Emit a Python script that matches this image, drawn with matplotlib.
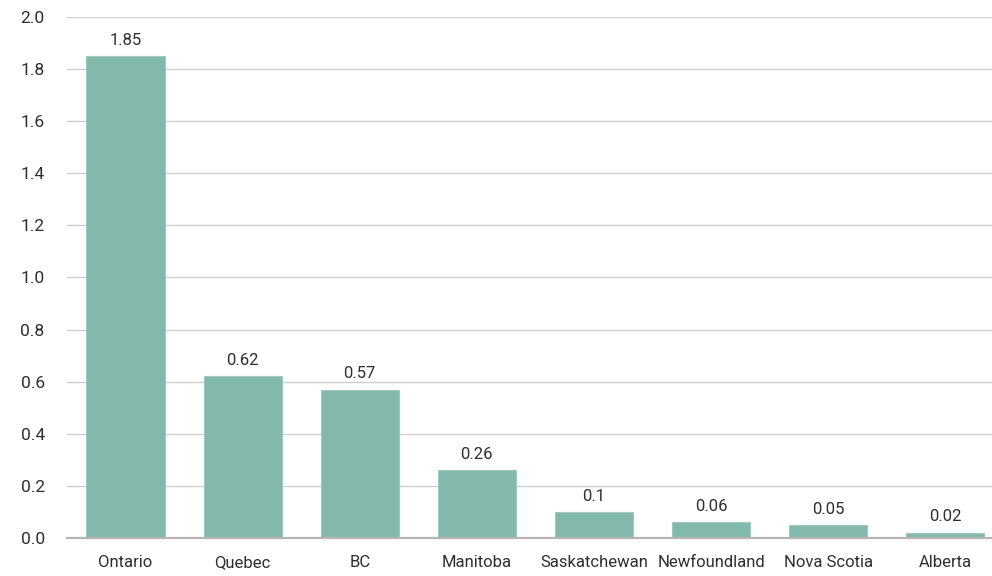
import matplotlib.pyplot as plt

provinces = ["Ontario", "Quebec", "BC", "Manitoba", "Saskatchewan",
             "Newfoundland", "Nova Scotia", "Alberta"]
values = [1.85, 0.62, 0.57, 0.26, 0.1, 0.06, 0.05, 0.02]
value_labels = ["1.85", "0.62", "0.57", "0.26", "0.1", "0.06", "0.05", "0.02"]
y_ticks = [0.0, 0.2, 0.4, 0.6, 0.8, 1.0, 1.2, 1.4, 1.6, 1.8, 2.0]

plt.rcParams['font.family'] = ['Roboto', 'DejaVu Sans']
text_col = '#2e2e2e'

fig = plt.figure(figsize=(9.92, 5.76), dpi=100)
ax = fig.add_axes([0.0675, 0.066, 0.9325, 0.9045])

x = range(len(provinces))
bars = ax.bar(x, values, width=0.667, color='#83b9ab',
              edgecolor='#9ccabd', linewidth=0.8, zorder=3)

for b, lab in zip(bars, value_labels):
    ax.annotate(lab, (b.get_x() + b.get_width() / 2, b.get_height()),
                xytext=(0, 6), textcoords='offset points',
                ha='center', va='bottom', fontsize=12, color=text_col)

ax.set_ylim(0, 2.0)
ax.set_xlim(-0.5, 7.4)
ax.set_yticks(y_ticks)
ax.set_yticklabels([f"{t:.1f}" for t in y_ticks])
ax.set_xticks(list(x))
ax.set_xticklabels(provinces)
ax.tick_params(axis='y', length=0, pad=16, labelsize=12.5, labelcolor=text_col)
ax.tick_params(axis='x', length=0, pad=12, labelsize=12, labelcolor=text_col)

ax.grid(axis='y', color='#cfcfcf', linewidth=1, zorder=0)
for s in ['top', 'right', 'left']:
    ax.spines[s].set_visible(False)
ax.spines['bottom'].set_color('#b5b5b5')
ax.spines['bottom'].set_linewidth(1.6)
ax.spines['bottom'].set_zorder(4)

fig.savefig("out.png", dpi=100)
